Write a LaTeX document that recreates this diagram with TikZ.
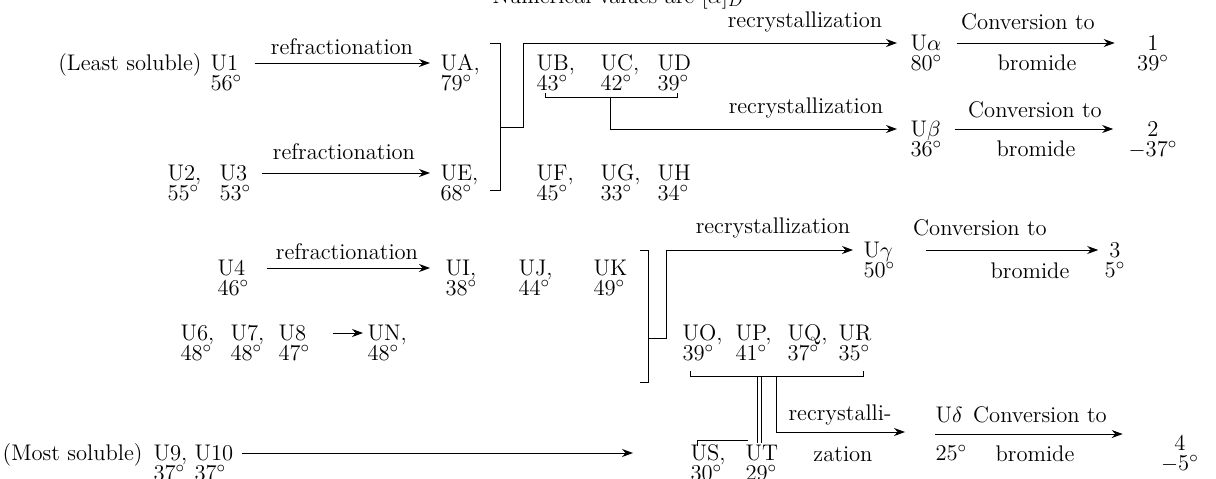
\documentclass[tikz,border=0pt]{standalone}
\usetikzlibrary{arrows.meta}
\begin{document}
\lineskiplimit=-20pt
\begin{tikzpicture}[x=0.5pt,y=-0.5pt,line width=0.5pt,
    font=\fontsize{11.3}{10}\selectfont,
    pr/.style={align=left,inner sep=0pt,anchor=base west,yshift=-10pt},
    res/.style={align=center,inner sep=0pt,anchor=base,yshift=-10pt},
    txt/.style={inner sep=0pt},
    arr/.style={-{Stealth[length=5.5pt,width=4pt]}}]
    \useasboundingbox (0,0) rectangle (1216,478);
    \node[txt,anchor=base] (title) at (618,3) {Numerical values are [$\alpha$]$_D$};
    % fractions
    \node[txt,anchor=base east] (least) at (202,70.5) {(Least soluble)};
    \foreach \n/\x/\nm/\dg in {u1/210/U1/56, ua/440/{UA,}/79, ub/536/{UB,}/43, uc/600/{UC,}/42, ud/657/UD/39} {
        \node[pr] (\n) at (\x,70.5) {\nm\\\dg$^\circ$};
    }
    \foreach \n/\x/\nm/\dg in {u2/167/{U2,}/55, u3/219/U3/53, ue/440/{UE,}/68, uf/536/{UF,}/45, ug/600/{UG,}/33, uh/657/UH/34} {
        \node[pr] (\n) at (\x,180.5) {\nm\\\dg$^\circ$};
    }
    \foreach \n/\x/\nm/\dg in {u4/217/U4/46, ui/445/{UI,}/38, uj/518/{UJ,}/44, uk/593/UK/49} {
        \node[pr] (\n) at (\x,275.5) {\nm\\\dg$^\circ$};
    }
    \foreach \n/\x/\nm/\dg in {u6/180/{U6,}/48, u7/230/{U7,}/48, u8/278/U8/47, un/367/{UN,}/48, uo/682/{UO,}/39, up/735/{UP,}/41, uq/787/{UQ,}/37, ur/838/UR/35} {
        \node[pr] (\n) at (\x,340.5) {\nm\\\dg$^\circ$};
    }
    \node[txt,anchor=base east] (most) at (143,460.5) {(Most soluble)};
    \foreach \n/\x/\nm/\dg in {u9/153/{U9,}/37, u10/194/U10/37, us/690/{US,}/30, ut/745/UT/29} {
        \node[pr] (\n) at (\x,460.5) {\nm\\\dg$^\circ$};
    }
    % pure fractions and bromides
    \node[pr] (ualpha) at (910,50.5) {U$\alpha$\\80$^\circ$};
    \node[pr] (ubeta) at (910,136.5) {U$\beta$\\36$^\circ$};
    \node[pr] (ugamma) at (863,257.5) {U$\gamma$\\50$^\circ$};
    \node[pr,yshift=-9pt] (udelta) at (935,422.5) {U$\delta$\\[9pt]25$^\circ$};
    \node[res] (r1) at (1153,50.5) {1\\39$^\circ$};
    \node[res] (r2) at (1153,136.5) {2\\$-$37$^\circ$};
    \node[res] (r3) at (1115,257.5) {3\\5$^\circ$};
    \node[res] (r4) at (1180,450.5) {4\\$-$5$^\circ$};
    % labels
    \node[txt] (rf1) at (342,47) {refractionation};
    \node[txt] (rf2) at (344,152) {refractionation};
    \node[txt] (rf3) at (347,252) {refractionation};
    \node[txt] (rc1) at (805,22) {recrystallization};
    \node[txt] (rc2) at (806,108) {recrystallization};
    \node[txt] (rc3) at (773,228) {recrystallization};
    \node[txt] (rc4) at (840,415) {recrystalli-};
    \node[txt] (rc5) at (843,454) {zation};
    \node[txt] (cv1) at (1028,22) {Conversion to};
    \node[txt] (cv2) at (1035,110) {Conversion to};
    \node[txt] (cv3) at (980,228) {Conversion to};
    \node[txt] (cv4) at (1040,415) {Conversion to};
    \node[txt] (br1) at (1037,63) {bromide};
    \node[txt] (br2) at (1036,149) {bromide};
    \node[txt] (br3) at (1030,271) {bromide};
    \node[txt] (br4) at (1035,454) {bromide};
    % refractionation arrows
    \draw[arr,shorten <=6pt,shorten >=5pt] ([yshift=13.75pt]u1.base east) -- ([yshift=13.75pt]ua.base west);
    \draw[arr,shorten <=5pt,shorten >=5pt] ([yshift=13.75pt]u3.base east) -- ([yshift=13.75pt]ue.base west);
    \draw[arr,shorten <=8.5pt,shorten >=7.5pt] ([yshift=13.75pt]u4.base east) -- ([yshift=13.75pt]ui.base west);
    \draw[arr,shorten <=11pt,shorten >=2pt] ([yshift=13.75pt]u8.base east) -- ([yshift=13.75pt]un.base west);
    \draw[arr,shorten <=4pt,shorten >=28.5pt] ([yshift=13.75pt]u10.base east) -- ([yshift=13.75pt]us.base west);
    % brackets and recrystallization
    \coordinate (k1) at (523,43);
    \coordinate (k2) at (610,129);
    \coordinate (k3) at (666,250);
    \coordinate (k4) at (776,432);
    \coordinate (k5) at (905,432);
    \draw (490,43) -- (500,43) -- (500,190) -- (490,190);
    \draw[arr,shorten >=6.5pt] (500,127) -- (523,127) -- (k1) -- (k1 -| ualpha.west);
    \draw (545,93) -- (545,97) -- (677,97) -- (677,93);
    \draw[arr,shorten >=6.5pt] (610,97) -- (k2) -- (k2 -| ubeta.west);
    \draw (640,250) -- (648,250) -- (648,382) -- (640,382);
    \draw[arr,shorten >=5pt] (648,338) -- (666,338) -- (k3) -- (k3 -| ugamma.west);
    \draw (690,371) -- (690,376) -- (863,376) -- (863,371);
    \draw (757,376) -- (757,443);
    \draw (761,376) -- (761,443);
    \draw[arr] (776,376) -- (k4) -- (k5);
    \draw (697,446) -- (697,440) -- (748,440);
    % conversion to bromide
    \draw[arr,shorten <=7pt,shorten >=11pt] ([yshift=13.75pt]ualpha.base east) -- ([yshift=13.75pt]ualpha.base east -| r1.west);
    \draw[arr,shorten <=6pt,shorten >=7.5pt] ([yshift=13.75pt]ubeta.base east) -- ([yshift=13.75pt]ubeta.base east -| r2.west);
    \draw[arr,shorten <=15pt,shorten >=3pt] ([yshift=13.75pt]ugamma.base east) -- ([yshift=13.75pt]ugamma.base east -| r3.west);
    \draw[arr,shorten >=19pt] (udelta.west) -- (udelta.west -| r4.west);
\end{tikzpicture}
\end{document}
